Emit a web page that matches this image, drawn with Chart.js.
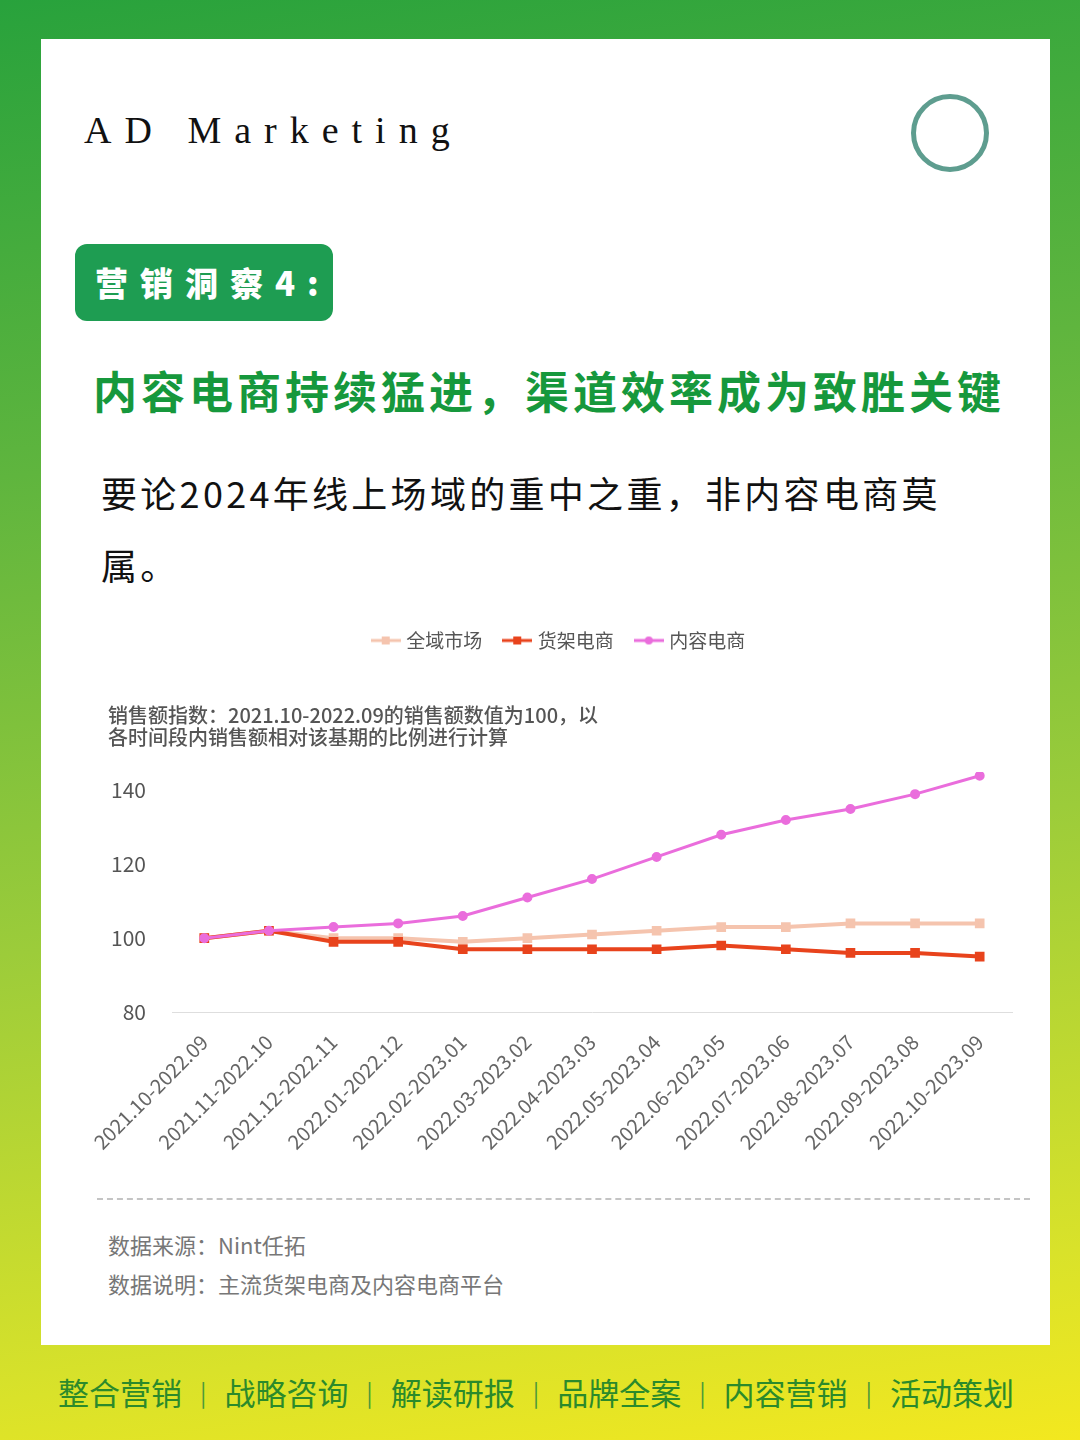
<!DOCTYPE html>
<html>
<head>
<meta charset="utf-8">
<script src="https://cdn.jsdelivr.net/npm/chart.js@4.4.1/dist/chart.umd.min.js"></script>
<style>
  html, body { margin: 0; padding: 0; }
  body {
    width: 1080px; height: 1440px; position: relative; overflow: hidden;
    background: linear-gradient(172deg, #28a23c 0%, #5fb53e 30%, #9ccc3a 60%, #d9e22a 88%, #f3e81f 100%);
    font-family: "Noto Sans CJK SC", "Noto Sans", sans-serif;
  }
  .card { position: absolute; left: 41px; top: 39px; width: 1009px; height: 1306px; background: #fff; }
  .brand {
    position: absolute; left: 84px; top: 106px; font-family: "Liberation Serif", serif;
    font-size: 38px; letter-spacing: 13px; color: #111; line-height: 48px; white-space: nowrap;
  }
  .ring {
    position: absolute; left: 911px; top: 94px; width: 68px; height: 68px;
    border: 5px solid #5e9d8f; border-radius: 50%;
  }
  .badge {
    position: absolute; left: 75px; top: 244px; width: 258px; height: 77px;
    background: #1e9d52; border-radius: 12px; color: #fff; white-space: nowrap;
    font-size: 33px; font-weight: 900; letter-spacing: 12px; line-height: 77px;
    padding-left: 20px; box-sizing: border-box;
  }
  .headline {
    position: absolute; left: 93px; top: 360px; font-size: 44px; font-weight: 700;
    letter-spacing: 4px; color: #16983c; line-height: 60px; white-space: nowrap;
  }
  .body {
    position: absolute; left: 101px; top: 456px; font-size: 36px; letter-spacing: 3.3px;
    color: #111; line-height: 72px; white-space: nowrap;
  }
  #wrap { position: absolute; left: 80px; top: 598px; width: 950px; height: 564px; }
  .dash { position: absolute; left: 97px; top: 1198px; width: 933px; border-top: 2px dashed #c4c4c4; }
  .note { position: absolute; left: 108px; font-size: 22px; color: #777; line-height: 30px; }
  .foot {
    position: absolute; left: 58px; top: 1370px; width: 956px; display: flex;
    justify-content: space-between; color: #2b8a2b; font-size: 31px; line-height: 44px;
  }
  .foot span.sep { color: #4a9a3a; font-size: 24px; }
</style>
</head>
<body>
<div class="card"></div>
<div class="brand">AD Marketing</div>
<div class="ring"></div>
<div class="badge">营销洞察4:</div>
<div class="headline">内容电商持续猛进，渠道效率成为致胜关键</div>
<div class="body">要论2024年线上场域的重中之重，非内容电商莫<br>属。</div>
<div id="wrap"><canvas id="myChart"></canvas></div>
<div class="dash"></div>
<div class="note" style="top:1229px;">数据来源：Nint任拓</div>
<div class="note" style="top:1268px;">数据说明：主流货架电商及内容电商平台</div>
<div class="foot">
  <span>整合营销</span><span class="sep">|</span><span>战略咨询</span><span class="sep">|</span><span>解读研报</span><span class="sep">|</span><span>品牌全案</span><span class="sep">|</span><span>内容营销</span><span class="sep">|</span><span>活动策划</span>
</div>

<script>
// x-axis periods (rolling 12 months)
const periods = [
  '2021.10-2022.09', '2021.11-2022.10', '2021.12-2022.11', '2022.01-2022.12',
  '2022.02-2023.01', '2022.03-2023.02', '2022.04-2023.03', '2022.05-2023.04',
  '2022.06-2023.05', '2022.07-2023.06', '2022.08-2023.07', '2022.09-2023.08',
  '2022.10-2023.09'
];
const seriesNames = ['全域市场', '货架电商', '内容电商'];
// sales index values, base period = 100
const allMarket   = [100, 102, 100, 100, 99, 100, 101, 102, 103, 103, 104, 104, 104];
const shelfEcom   = [100, 102, 99, 99, 97, 97, 97, 97, 98, 97, 96, 96, 95];
const contentEcom = [100, 102, 103, 104, 106, 111, 116, 122, 128, 132, 135, 139, 144];
const yTicks = [80, 100, 120, 140];

const colors = ['#f5c4ae', '#e8431c', '#ea6ddc'];
const shapes = ['rect', 'rect', 'circle'];

// legend marker: short line with a dot in the middle
function legendIcon(color, shape) {
  const c = document.createElement('canvas');
  c.width = 30; c.height = 10;
  const g = c.getContext('2d');
  g.strokeStyle = color; g.lineWidth = 3;
  g.beginPath(); g.moveTo(0, 5); g.lineTo(30, 5); g.stroke();
  g.fillStyle = color;
  if (shape === 'rect') { g.fillRect(11, 1, 8, 8); }
  else { g.beginPath(); g.arc(15, 5, 4, 0, Math.PI * 2); g.fill(); }
  return c;
}

const ctx = document.getElementById('myChart');
const myChart = new Chart(ctx, {
  type: 'line',
  data: {
    labels: periods,
    datasets: [
      { label: seriesNames[0], data: allMarket, order: 3 },
      { label: seriesNames[1], data: shelfEcom, order: 2 },
      { label: seriesNames[2], data: contentEcom, order: 1 }
    ].map((d, i) => Object.assign(d, {
      borderColor: colors[i],
      backgroundColor: colors[i],
      borderWidth: i === 2 ? 3 : 4,
      pointStyle: shapes[i],
      pointRadius: i === 2 ? 3.5 : 4,
      fill: false,
      tension: 0
    }))
  },
  options: {
    responsive: true,
    maintainAspectRatio: false,
    animation: false,
    layout: { padding: { left: 28, right: 18, top: 9, bottom: 0 } },
    scales: {
      x: {
        offset: true,
        grid: { display: false, drawTicks: false },
        border: { display: true, color: '#dedede', width: 1 },
        afterFit: (scale) => { scale.paddingLeft = 0; scale.height = 150; },
        ticks: {
          minRotation: 45, maxRotation: 45, padding: 18,
          color: '#666', font: { family: 'Noto Sans CJK SC', size: 20 }
        }
      },
      y: {
        min: 80, max: 145,
        grid: { display: false, drawTicks: false },
        border: { display: false },
        afterFit: (scale) => { scale.width = 64; },
        afterBuildTicks: (scale) => {
          scale.ticks = yTicks.map(v => ({ value: v }));
        },
        ticks: {
          padding: 26,
          color: '#555', font: { family: 'Noto Sans CJK SC', size: 21 }
        }
      }
    },
    plugins: {
      legend: {
        position: 'top',
        weight: 1000,
        labels: {
          usePointStyle: true,
          pointStyleWidth: 22,
          boxHeight: 10,
          padding: 24,
          color: '#555',
          font: { family: 'Noto Sans CJK SC', size: 19 },
          generateLabels: (chart) => chart.data.datasets.map((d, i) => ({
            text: d.label,
            fillStyle: colors[i],
            strokeStyle: colors[i],
            lineWidth: 0,
            pointStyle: legendIcon(colors[i], shapes[i]),
            hidden: !chart.isDatasetVisible(i),
            datasetIndex: i,
            fontColor: '#555'
          }))
        }
      },
      title: {
        display: true,
        weight: 500,
        align: 'start',
        text: ['销售额指数：2021.10-2022.09的销售额数值为100，以', '各时间段内销售额相对该基期的比例进行计算'],
        color: '#555',
        font: { family: 'Noto Sans CJK SC', size: 20, weight: '500', lineHeight: 1.1 },
        padding: { top: 44, bottom: 24 }
      },
      tooltip: { enabled: false }
    }
  }
});
</script>
</body>
</html>
